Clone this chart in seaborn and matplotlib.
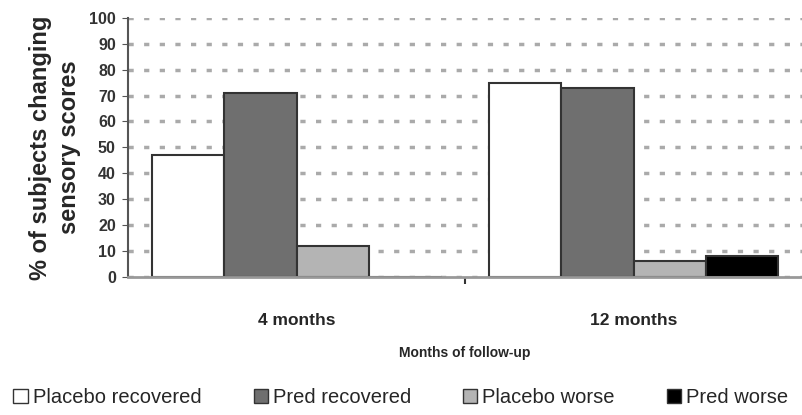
import matplotlib
matplotlib.use('Agg')
import matplotlib.pyplot as plt
import seaborn as sns
import pandas as pd

# 随访时间和各组百分比
months = ['4 months', '12 months']
groups = ['Placebo recovered', 'Pred recovered', 'Placebo worse', 'Pred worse']
placebo_recovered = [47, 75]
pred_recovered = [71, 73]
placebo_worse = [12, 6]
pred_worse = [0, 8]
colors = ['#ffffff', '#6f6f6f', '#b4b4b4', '#000000']

values = [placebo_recovered, pred_recovered, placebo_worse, pred_worse]
rows = []
for g, vals in zip(groups, values):
    for m, v in zip(months, vals):
        rows.append({'month': m, 'group': g, 'pct': v})
df = pd.DataFrame(rows)

sns.set_style('white')
plt.rcParams['font.family'] = ['Liberation Sans', 'DejaVu Sans']

fig = plt.figure(figsize=(8.02, 4.15), dpi=100)
ax = fig.add_axes([0.16, 0.333, 0.84, 0.624])

sns.barplot(data=df, x='month', y='pct', hue='group', order=months,
            hue_order=groups, palette=colors, width=0.86,
            edgecolor='#333333', linewidth=1.5, ax=ax)

ax.set_ylim(0, 100)
ax.set_xlim(-0.5, 1.5)
ax.set_yticks(range(0, 101, 10))
ax.yaxis.grid(True, linestyle=(0, (1.5, 3)), color='#aaaaaa', linewidth=2.5)
ax.set_axisbelow(True)
for s in ['top', 'right']:
    ax.spines[s].set_visible(False)
ax.spines['left'].set_color('#555555')
ax.spines['left'].set_linewidth(1.5)
ax.spines['bottom'].set_color('#999999')
ax.spines['bottom'].set_linewidth(2)

ax.tick_params(axis='y', labelsize=11.5, length=4, color='#555555', left=True, pad=5)
for lab in ax.get_yticklabels():
    lab.set_fontweight('bold')
    lab.set_color('#333333')
ax.set_xticks([0.5], minor=True)
ax.tick_params(axis='x', which='major', length=0, labelsize=12.5, pad=26)
ax.tick_params(axis='x', which='minor', length=5, width=1.5, color='#333333', bottom=True)
for lab in ax.get_xticklabels():
    lab.set_fontweight('bold')

ax.set_xlabel('Months of follow-up', fontsize=10, fontweight='bold', labelpad=13)
ax.set_ylabel('% of subjects changing\nsensory scores', fontsize=17,
              fontweight='bold', labelpad=6, linespacing=1.3)

ax.legend_.remove()
handles = [plt.Rectangle((0, 0), 1, 1, facecolor=c, edgecolor='#333333')
           for c in colors]
fig.legend(handles, groups, loc='lower center', ncol=4, frameon=False,
           fontsize=14.5, bbox_to_anchor=(0.5, -0.025), handlelength=0.7,
           handleheight=0.7, handletextpad=0.25, columnspacing=2.6)

fig.savefig('out.png', dpi=100)
